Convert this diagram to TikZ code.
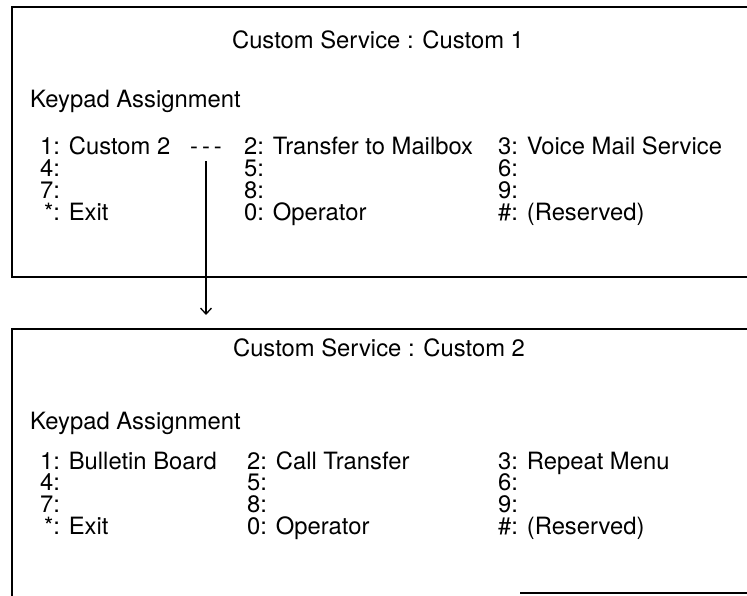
\documentclass[tikz,border=0pt]{standalone}
\usepackage{fontspec}
\setmainfont{TeX Gyre Heros}
\usetikzlibrary{arrows.meta, positioning}
\newcommand{\menufont}{\fontsize{23.8}{28}\selectfont}
\newcommand{\kk}[1]{\hphantom{0}\llap{#1}:}

\begin{document}
\begin{tikzpicture}[x=1pt, y=-1pt, >={Straight Barb[length=6pt,width=11pt]},
        every node/.style={font=\menufont, inner sep=0pt},
        entry/.style={anchor=base west},
        rowbelow/.style={below=21.7pt of #1.base west, anchor=base west},
        frame/.style={line width=2.2pt}]
        \useasboundingbox (0,0) rectangle (747,596);
        % first screen
        \draw[frame] (747,7) -- (12,7) -- (12,277) -- (747,277);
        \node (t1) [anchor=base] at (378,49) {Custom Service : Custom 1};
        \node (k1) [entry] at (30,108) {Keypad Assignment};
        \node (a1) [entry] at (40,155) {\kk{1} Custom 2};
        \node (link) [anchor=base] at (206,155) {-\,-\,-};
        \node (a4) [rowbelow=a1] {\kk{4}};
        \node (a7) [rowbelow=a4] {\kk{7}};
        \node (as) [rowbelow=a7] {\kk{*} Exit};
        \node (a2) [entry] at (244,155) {\kk{2} Transfer to Mailbox};
        \node (a5) [rowbelow=a2] {\kk{5}};
        \node (a8) [rowbelow=a5] {\kk{8}};
        \node (a0) [rowbelow=a8] {\kk{0} Operator};
        \node (a3) [entry] at (498,155) {\kk{3} Voice Mail Service};
        \node (a6) [rowbelow=a3] {\kk{6}};
        \node (a9) [rowbelow=a6] {\kk{9}};
        \node (ah) [rowbelow=a9] {\kk{\#} (Reserved)};
        % second screen
        \draw[frame] (747,329) -- (12,329) -- (12,596);
        \draw[frame] (520,593) -- (747,593);
        \node (t2) [anchor=base] at (379,356) {Custom Service : Custom 2};
        \node (k2) [entry] at (30,429) {Keypad Assignment};
        \node (b1) [entry] at (40,469) {\kk{1} Bulletin Board};
        \node (b4) [rowbelow=b1] {\kk{4}};
        \node (b7) [rowbelow=b4] {\kk{7}};
        \node (bs) [rowbelow=b7] {\kk{*} Exit};
        \node (b2) [entry] at (247,469) {\kk{2} Call Transfer};
        \node (b5) [rowbelow=b2] {\kk{5}};
        \node (b8) [rowbelow=b5] {\kk{8}};
        \node (b0) [rowbelow=b8] {\kk{0} Operator};
        \node (b3) [entry] at (498,469) {\kk{3} Repeat Menu};
        \node (b6) [rowbelow=b3] {\kk{6}};
        \node (b9) [rowbelow=b6] {\kk{9}};
        \node (bh) [rowbelow=b9] {\kk{\#} (Reserved)};
        \coordinate (drop) at (206,315);
        \draw[->, line width=1.3pt, shorten <=6pt] (link.south) -- (drop);
      \end{tikzpicture}
\end{document}
